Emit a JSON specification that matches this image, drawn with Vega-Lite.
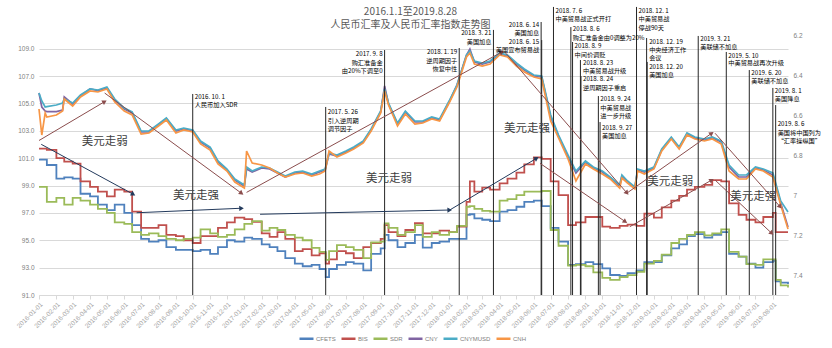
{
"$schema": "https://vega.github.io/schema/vega-lite/v6.json",
"width": 749, "height": 260,
"autosize": {"type": "none"},
"padding": {"left": 39, "top": 35, "right": 44, "bottom": 53},
"background": "white",
"config": {"view": {"stroke": null}, "font": "Liberation Sans"},
"title": {"text": ["2016.1.1至2019.8.28", "人民币汇率及人民币汇率指数走势图"], "fontSize": 10, "font": "Noto Sans CJK SC", "fontWeight": "normal", "color": "#595959", "lineHeight": 13, "offset": -24, "dx": -3, "anchor": "middle"},
"datasets": {
"idx": [
{"date":"2016-01-01","CFETS":100.9,"BIS":101.7,"SDR":98.9},
{"date":"2016-01-15","CFETS":100.5,"BIS":101.6,"SDR":97.8},
{"date":"2016-02-01","CFETS":99.5,"BIS":101.0,"SDR":98.1},
{"date":"2016-02-15","CFETS":99.6,"BIS":100.75,"SDR":97.6},
{"date":"2016-03-01","CFETS":99.5,"BIS":100.6,"SDR":98.1},
{"date":"2016-03-15","CFETS":98.4,"BIS":99.3,"SDR":97.9},
{"date":"2016-04-01","CFETS":98.2,"BIS":98.9,"SDR":97.6},
{"date":"2016-04-15","CFETS":97.6,"BIS":98.55,"SDR":97.3},
{"date":"2016-05-01","CFETS":97.2,"BIS":98.2,"SDR":97.0},
{"date":"2016-05-15","CFETS":97.6,"BIS":98.7,"SDR":96.3},
{"date":"2016-06-01","CFETS":97.0,"BIS":98.55,"SDR":96.2},
{"date":"2016-06-15","CFETS":96.1,"BIS":97.1,"SDR":95.6},
{"date":"2016-07-01","CFETS":95.1,"BIS":95.9,"SDR":95.4},
{"date":"2016-07-15","CFETS":94.9,"BIS":95.9,"SDR":95.5},
{"date":"2016-08-01","CFETS":95.0,"BIS":96.1,"SDR":95.3},
{"date":"2016-08-15","CFETS":94.5,"BIS":95.4,"SDR":95.1},
{"date":"2016-09-01","CFETS":94.3,"BIS":95.3,"SDR":95.0},
{"date":"2016-09-15","CFETS":94.3,"BIS":95.0,"SDR":95.1},
{"date":"2016-10-01","CFETS":94.2,"BIS":94.8,"SDR":95.2},
{"date":"2016-10-15","CFETS":94.3,"BIS":95.3,"SDR":95.8},
{"date":"2016-11-01","CFETS":94.0,"BIS":95.3,"SDR":95.5},
{"date":"2016-11-15","CFETS":94.5,"BIS":95.9,"SDR":95.25},
{"date":"2016-12-01","CFETS":95.0,"BIS":96.3,"SDR":95.4},
{"date":"2016-12-15","CFETS":94.9,"BIS":96.65,"SDR":95.8},
{"date":"2017-01-01","CFETS":95.2,"BIS":96.55,"SDR":96.2},
{"date":"2017-01-15","CFETS":95.1,"BIS":96.35,"SDR":96.4},
{"date":"2017-02-01","CFETS":94.7,"BIS":95.5,"SDR":95.7},
{"date":"2017-02-15","CFETS":94.5,"BIS":95.25,"SDR":95.9},
{"date":"2017-03-01","CFETS":94.2,"BIS":95.6,"SDR":95.75},
{"date":"2017-03-15","CFETS":93.7,"BIS":95.1,"SDR":95.4},
{"date":"2017-04-01","CFETS":93.3,"BIS":94.2,"SDR":95.2},
{"date":"2017-04-15","CFETS":93.1,"BIS":94.35,"SDR":95.0},
{"date":"2017-05-01","CFETS":93.2,"BIS":93.9,"SDR":94.45},
{"date":"2017-05-15","CFETS":92.9,"BIS":94.05,"SDR":94.15},
{"date":"2017-05-26","CFETS":92.3,"BIS":93.3,"SDR":93.56},
{"date":"2017-06-01","CFETS":92.9,"BIS":93.6,"SDR":94.2},
{"date":"2017-06-15","CFETS":93.2,"BIS":94.2,"SDR":94.65},
{"date":"2017-07-01","CFETS":93.4,"BIS":94.05,"SDR":94.5},
{"date":"2017-07-15","CFETS":93.3,"BIS":93.7,"SDR":94.3},
{"date":"2017-08-01","CFETS":92.8,"BIS":94.5,"SDR":93.7},
{"date":"2017-08-15","CFETS":94.0,"BIS":94.8,"SDR":94.85},
{"date":"2017-09-01","CFETS":94.4,"BIS":95.1,"SDR":94.9},
{"date":"2017-09-08","CFETS":95.4,"BIS":96.1,"SDR":96.24},
{"date":"2017-09-15","CFETS":95.0,"BIS":95.6,"SDR":95.9},
{"date":"2017-10-01","CFETS":94.5,"BIS":95.3,"SDR":95.4},
{"date":"2017-10-15","CFETS":94.8,"BIS":95.75,"SDR":95.6},
{"date":"2017-11-01","CFETS":95.4,"BIS":96.25,"SDR":96.1},
{"date":"2017-11-15","CFETS":94.46,"BIS":95.5,"SDR":95.25},
{"date":"2017-12-01","CFETS":94.8,"BIS":95.5,"SDR":95.6},
{"date":"2017-12-15","CFETS":94.9,"BIS":95.7,"SDR":95.4},
{"date":"2018-01-01","CFETS":95.1,"BIS":95.6,"SDR":95.6},
{"date":"2018-01-15","CFETS":95.1,"BIS":96.0,"SDR":96.05},
{"date":"2018-02-01","CFETS":96.85,"BIS":97.8,"SDR":97.45},
{"date":"2018-02-07","CFETS":96.9,"BIS":99.3,"SDR":97.5},
{"date":"2018-02-15","CFETS":96.6,"BIS":98.55,"SDR":97.3},
{"date":"2018-03-01","CFETS":96.5,"BIS":98.85,"SDR":97.15},
{"date":"2018-03-15","CFETS":96.4,"BIS":98.7,"SDR":97.1},
{"date":"2018-04-01","CFETS":97.1,"BIS":99.15,"SDR":97.9},
{"date":"2018-04-15","CFETS":97.2,"BIS":99.5,"SDR":98.0},
{"date":"2018-05-01","CFETS":97.45,"BIS":99.95,"SDR":98.3},
{"date":"2018-05-15","CFETS":97.8,"BIS":100.55,"SDR":98.55},
{"date":"2018-06-01","CFETS":97.9,"BIS":101.05,"SDR":98.55},
{"date":"2018-06-15","CFETS":97.5,"BIS":100.95,"SDR":98.6},
{"date":"2018-07-01","CFETS":95.9,"BIS":99.3,"SDR":95.75},
{"date":"2018-07-15","CFETS":94.9,"BIS":98.3,"SDR":94.6},
{"date":"2018-08-01","CFETS":93.2,"BIS":96.1,"SDR":93.15},
{"date":"2018-08-15","CFETS":93.25,"BIS":96.3,"SDR":93.2},
{"date":"2018-09-01","CFETS":93.4,"BIS":96.7,"SDR":93.1},
{"date":"2018-09-15","CFETS":93.25,"BIS":96.7,"SDR":92.65},
{"date":"2018-10-01","CFETS":92.95,"BIS":96.0,"SDR":92.25},
{"date":"2018-10-15","CFETS":92.46,"BIS":95.9,"SDR":92.1},
{"date":"2018-11-01","CFETS":92.4,"BIS":96.05,"SDR":92.3},
{"date":"2018-11-15","CFETS":92.6,"BIS":96.15,"SDR":92.45},
{"date":"2018-12-01","CFETS":92.8,"BIS":96.05,"SDR":92.7},
{"date":"2018-12-15","CFETS":93.4,"BIS":96.95,"SDR":93.3},
{"date":"2019-01-01","CFETS":93.4,"BIS":96.65,"SDR":93.5},
{"date":"2019-01-15","CFETS":93.9,"BIS":97.4,"SDR":93.95},
{"date":"2019-02-01","CFETS":94.4,"BIS":97.9,"SDR":94.8},
{"date":"2019-02-15","CFETS":94.7,"BIS":98.25,"SDR":95.1},
{"date":"2019-03-01","CFETS":95.3,"BIS":98.7,"SDR":95.4},
{"date":"2019-03-15","CFETS":95.45,"BIS":98.9,"SDR":95.6},
{"date":"2019-04-01","CFETS":95.2,"BIS":99.05,"SDR":95.35},
{"date":"2019-04-15","CFETS":95.4,"BIS":99.4,"SDR":95.5},
{"date":"2019-05-01","CFETS":95.6,"BIS":99.3,"SDR":95.8},
{"date":"2019-05-15","CFETS":94.0,"BIS":97.7,"SDR":94.15},
{"date":"2019-06-01","CFETS":93.8,"BIS":96.85,"SDR":93.8},
{"date":"2019-06-15","CFETS":93.3,"BIS":96.5,"SDR":93.25},
{"date":"2019-07-01","CFETS":93.0,"BIS":96.3,"SDR":93.2},
{"date":"2019-07-15","CFETS":93.4,"BIS":96.7,"SDR":93.6},
{"date":"2019-08-01","CFETS":93.5,"BIS":97.0,"SDR":93.6},
{"date":"2019-08-06","CFETS":92.0,"BIS":95.6,"SDR":92.1},
{"date":"2019-08-15","CFETS":91.9,"BIS":95.6,"SDR":91.7},
{"date":"2019-08-28","CFETS":91.8,"BIS":95.6,"SDR":91.55}
],
"fx": [
{"date":"2016-01-01","CNY":6.49,"CNYMUSD":6.49,"CNH":6.57},
{"date":"2016-01-06","CNY":6.56,"CNYMUSD":6.53,"CNH":6.70},
{"date":"2016-01-12","CNY":6.58,"CNYMUSD":6.56,"CNH":6.59},
{"date":"2016-01-15","CNY":6.583,"CNYMUSD":6.558,"CNH":6.61},
{"date":"2016-02-01","CNY":6.583,"CNYMUSD":6.55,"CNH":6.60},
{"date":"2016-02-12","CNY":6.575,"CNYMUSD":6.54,"CNH":6.58},
{"date":"2016-02-15","CNY":6.51,"CNYMUSD":6.52,"CNH":6.52},
{"date":"2016-03-01","CNY":6.545,"CNYMUSD":6.54,"CNH":6.555},
{"date":"2016-03-15","CNY":6.505,"CNYMUSD":6.50,"CNH":6.51},
{"date":"2016-04-01","CNY":6.47,"CNYMUSD":6.47,"CNH":6.48},
{"date":"2016-04-15","CNY":6.478,"CNYMUSD":6.475,"CNH":6.485},
{"date":"2016-05-01","CNY":6.465,"CNYMUSD":6.46,"CNH":6.47},
{"date":"2016-05-15","CNY":6.525,"CNYMUSD":6.52,"CNH":6.535},
{"date":"2016-06-01","CNY":6.57,"CNYMUSD":6.565,"CNH":6.58},
{"date":"2016-06-15","CNY":6.59,"CNYMUSD":6.585,"CNH":6.60},
{"date":"2016-07-01","CNY":6.685,"CNYMUSD":6.68,"CNH":6.695},
{"date":"2016-07-15","CNY":6.685,"CNYMUSD":6.68,"CNH":6.69},
{"date":"2016-08-01","CNY":6.648,"CNYMUSD":6.645,"CNH":6.655},
{"date":"2016-08-15","CNY":6.62,"CNYMUSD":6.615,"CNH":6.625},
{"date":"2016-09-01","CNY":6.68,"CNYMUSD":6.675,"CNH":6.69},
{"date":"2016-09-15","CNY":6.67,"CNYMUSD":6.665,"CNH":6.675},
{"date":"2016-10-01","CNY":6.678,"CNYMUSD":6.675,"CNH":6.685},
{"date":"2016-10-15","CNY":6.735,"CNYMUSD":6.73,"CNH":6.745},
{"date":"2016-11-01","CNY":6.765,"CNYMUSD":6.76,"CNH":6.775},
{"date":"2016-11-15","CNY":6.835,"CNYMUSD":6.83,"CNH":6.845},
{"date":"2016-12-01","CNY":6.875,"CNYMUSD":6.87,"CNH":6.88},
{"date":"2016-12-15","CNY":6.925,"CNYMUSD":6.92,"CNH":6.935},
{"date":"2017-01-01","CNY":6.955,"CNYMUSD":6.95,"CNH":6.965},
{"date":"2017-01-05","CNY":6.87,"CNYMUSD":6.86,"CNH":6.78},
{"date":"2017-01-15","CNY":6.885,"CNYMUSD":6.88,"CNH":6.84},
{"date":"2017-02-01","CNY":6.865,"CNYMUSD":6.86,"CNH":6.85},
{"date":"2017-02-15","CNY":6.87,"CNYMUSD":6.865,"CNH":6.865},
{"date":"2017-03-01","CNY":6.89,"CNYMUSD":6.885,"CNH":6.89},
{"date":"2017-03-15","CNY":6.91,"CNYMUSD":6.905,"CNH":6.91},
{"date":"2017-04-01","CNY":6.89,"CNYMUSD":6.885,"CNH":6.895},
{"date":"2017-04-15","CNY":6.885,"CNYMUSD":6.88,"CNH":6.89},
{"date":"2017-05-01","CNY":6.90,"CNYMUSD":6.895,"CNH":6.905},
{"date":"2017-05-15","CNY":6.885,"CNYMUSD":6.88,"CNH":6.895},
{"date":"2017-05-25","CNY":6.875,"CNYMUSD":6.87,"CNH":6.88},
{"date":"2017-06-01","CNY":6.795,"CNYMUSD":6.79,"CNH":6.78},
{"date":"2017-06-15","CNY":6.805,"CNYMUSD":6.80,"CNH":6.81},
{"date":"2017-07-01","CNY":6.785,"CNYMUSD":6.78,"CNH":6.79},
{"date":"2017-07-15","CNY":6.765,"CNYMUSD":6.76,"CNH":6.77},
{"date":"2017-08-01","CNY":6.735,"CNYMUSD":6.73,"CNH":6.74},
{"date":"2017-08-15","CNY":6.675,"CNYMUSD":6.67,"CNH":6.68},
{"date":"2017-09-01","CNY":6.585,"CNYMUSD":6.58,"CNH":6.59},
{"date":"2017-09-08","CNY":6.455,"CNYMUSD":6.47,"CNH":6.48},
{"date":"2017-09-15","CNY":6.545,"CNYMUSD":6.54,"CNH":6.55},
{"date":"2017-10-01","CNY":6.645,"CNYMUSD":6.64,"CNH":6.655},
{"date":"2017-10-15","CNY":6.585,"CNYMUSD":6.58,"CNH":6.595},
{"date":"2017-11-01","CNY":6.635,"CNYMUSD":6.63,"CNH":6.645},
{"date":"2017-11-15","CNY":6.635,"CNYMUSD":6.63,"CNH":6.64},
{"date":"2017-12-01","CNY":6.615,"CNYMUSD":6.61,"CNH":6.62},
{"date":"2017-12-15","CNY":6.625,"CNYMUSD":6.62,"CNH":6.63},
{"date":"2018-01-01","CNY":6.535,"CNYMUSD":6.53,"CNH":6.54},
{"date":"2018-01-15","CNY":6.45,"CNYMUSD":6.45,"CNH":6.46},
{"date":"2018-02-01","CNY":6.30,"CNYMUSD":6.30,"CNH":6.31},
{"date":"2018-02-07","CNY":6.27,"CNYMUSD":6.28,"CNH":6.29},
{"date":"2018-02-15","CNY":6.335,"CNYMUSD":6.33,"CNH":6.345},
{"date":"2018-03-01","CNY":6.345,"CNYMUSD":6.34,"CNH":6.355},
{"date":"2018-03-15","CNY":6.335,"CNYMUSD":6.33,"CNH":6.345},
{"date":"2018-04-01","CNY":6.295,"CNYMUSD":6.29,"CNH":6.30},
{"date":"2018-04-15","CNY":6.305,"CNYMUSD":6.30,"CNH":6.31},
{"date":"2018-05-01","CNY":6.345,"CNYMUSD":6.34,"CNH":6.355},
{"date":"2018-05-15","CNY":6.375,"CNYMUSD":6.37,"CNH":6.385},
{"date":"2018-06-01","CNY":6.405,"CNYMUSD":6.40,"CNH":6.41},
{"date":"2018-06-15","CNY":6.41,"CNYMUSD":6.405,"CNH":6.42},
{"date":"2018-07-01","CNY":6.61,"CNYMUSD":6.60,"CNH":6.63},
{"date":"2018-07-15","CNY":6.705,"CNYMUSD":6.70,"CNH":6.715},
{"date":"2018-08-01","CNY":6.81,"CNYMUSD":6.80,"CNH":6.82},
{"date":"2018-08-15","CNY":6.89,"CNYMUSD":6.88,"CNH":6.93},
{"date":"2018-09-01","CNY":6.835,"CNYMUSD":6.83,"CNH":6.845},
{"date":"2018-09-15","CNY":6.865,"CNYMUSD":6.86,"CNH":6.87},
{"date":"2018-10-01","CNY":6.885,"CNYMUSD":6.88,"CNH":6.895},
{"date":"2018-10-15","CNY":6.915,"CNYMUSD":6.91,"CNH":6.92},
{"date":"2018-11-01","CNY":6.955,"CNYMUSD":6.95,"CNH":6.965},
{"date":"2018-11-05","CNY":6.905,"CNYMUSD":6.90,"CNH":6.915},
{"date":"2018-11-15","CNY":6.935,"CNYMUSD":6.93,"CNH":6.94},
{"date":"2018-11-28","CNY":6.965,"CNYMUSD":6.96,"CNH":6.97},
{"date":"2018-12-03","CNY":6.875,"CNYMUSD":6.87,"CNH":6.88},
{"date":"2018-12-15","CNY":6.885,"CNYMUSD":6.88,"CNH":6.895},
{"date":"2019-01-01","CNY":6.865,"CNYMUSD":6.86,"CNH":6.87},
{"date":"2019-01-15","CNY":6.775,"CNYMUSD":6.77,"CNH":6.78},
{"date":"2019-02-01","CNY":6.715,"CNYMUSD":6.71,"CNH":6.72},
{"date":"2019-02-15","CNY":6.765,"CNYMUSD":6.76,"CNH":6.77},
{"date":"2019-03-01","CNY":6.695,"CNYMUSD":6.69,"CNH":6.70},
{"date":"2019-03-15","CNY":6.715,"CNYMUSD":6.71,"CNH":6.72},
{"date":"2019-04-01","CNY":6.725,"CNYMUSD":6.72,"CNH":6.73},
{"date":"2019-04-15","CNY":6.715,"CNYMUSD":6.71,"CNH":6.72},
{"date":"2019-05-01","CNY":6.735,"CNYMUSD":6.73,"CNH":6.745},
{"date":"2019-05-15","CNY":6.86,"CNYMUSD":6.85,"CNH":6.88},
{"date":"2019-06-01","CNY":6.91,"CNYMUSD":6.90,"CNH":6.92},
{"date":"2019-06-15","CNY":6.91,"CNYMUSD":6.90,"CNH":6.92},
{"date":"2019-07-01","CNY":6.865,"CNYMUSD":6.86,"CNH":6.87},
{"date":"2019-07-15","CNY":6.875,"CNYMUSD":6.87,"CNH":6.88},
{"date":"2019-08-01","CNY":6.90,"CNYMUSD":6.89,"CNH":6.91},
{"date":"2019-08-15","CNY":7.04,"CNYMUSD":7.03,"CNH":7.05},
{"date":"2019-08-28","CNY":7.16,"CNYMUSD":7.085,"CNH":7.17}
],
"events": [
{"date":"2016-10-01","top":105.69},{"date":"2017-05-26","top":104.74},{"date":"2017-09-08","top":108.9},
{"date":"2018-01-19","top":109.05},{"date":"2018-03-21","top":110.37},{"date":"2018-06-14","top":110.95},
{"date":"2018-06-15","top":109.63},{"date":"2018-07-06","top":112.05},{"date":"2018-08-06","top":110.58},
{"date":"2018-08-09","top":109.49},{"date":"2018-08-23","top":108.17},{"date":"2018-08-24","top":107.0},
{"date":"2018-09-24","top":105.54},{"date":"2018-09-27","top":103.64},{"date":"2018-12-01","top":112.05},
{"date":"2018-12-19","top":109.78},{"date":"2018-12-20","top":108.03},{"date":"2019-03-21","top":109.93},
{"date":"2019-05-10","top":108.76},{"date":"2019-06-20","top":107.44},{"date":"2019-08-01","top":106.13},
{"date":"2019-08-06","top":104.88}
],
"notesR": [
{"date":"2016-10-01","v":105.47,"t":"2016. 10. 1"},{"date":"2016-10-01","v":104.88,"t":"人民币加入SDR"},
{"date":"2017-05-26","v":104.37,"t":"2017. 5. 26"},{"date":"2017-05-26","v":103.72,"t":"引入逆周期"},{"date":"2017-05-26","v":103.13,"t":"调节因子"},
{"date":"2018-07-06","v":111.75,"t":"2018. 7. 6"},{"date":"2018-07-06","v":111.17,"t":"中美贸易战正式开打"},
{"date":"2018-08-06","v":110.44,"t":"2018. 8. 6"},{"date":"2018-08-06","v":109.78,"t":"购汇准备金由0调整为20%"},
{"date":"2018-08-09","v":109.2,"t":"2018. 8. 9"},{"date":"2018-08-09","v":108.54,"t":"中间价调贬"},
{"date":"2018-08-24","v":107.95,"t":"2018. 8. 23"},{"date":"2018-08-24","v":107.37,"t":"中美贸易战升级"},
{"date":"2018-08-24","v":106.78,"t":"2018. 8. 24"},{"date":"2018-08-24","v":106.13,"t":"逆周期因子重启"},
{"date":"2018-09-24","v":105.32,"t":"2018. 9. 24"},{"date":"2018-09-24","v":104.67,"t":"中美贸易战"},{"date":"2018-09-24","v":104.08,"t":"进一步升级"},
{"date":"2018-09-27","v":103.2,"t":"2018. 9. 27"},{"date":"2018-09-27","v":102.62,"t":"美国加息"},
{"date":"2018-12-01","v":111.75,"t":"2018. 12. 1"},{"date":"2018-12-01","v":111.17,"t":"中美贸易战"},{"date":"2018-12-01","v":110.51,"t":"停战90天"},
{"date":"2018-12-20","v":109.49,"t":"2018. 12. 19"},{"date":"2018-12-20","v":108.9,"t":"中央经济工作"},{"date":"2018-12-20","v":108.32,"t":"会议"},
{"date":"2018-12-20","v":107.66,"t":"2018. 12. 20"},{"date":"2018-12-20","v":107.08,"t":"美国加息"},
{"date":"2019-03-21","v":109.71,"t":"2019. 3. 21"},{"date":"2019-03-21","v":109.12,"t":"美联储不加息"},
{"date":"2019-05-10","v":108.47,"t":"2019. 5. 10"},{"date":"2019-05-10","v":107.95,"t":"中美贸易战再次升级"},
{"date":"2019-06-20","v":107.22,"t":"2019. 6. 20"},{"date":"2019-06-20","v":106.64,"t":"美联储不加息"},
{"date":"2019-08-01","v":105.91,"t":"2019. 8. 1"},{"date":"2019-08-01","v":105.32,"t":"美国降息"},
{"date":"2019-08-06","v":103.5,"t":"2019. 8. 6"},{"date":"2019-08-06","v":102.84,"t":"美国将中国列为"},{"date":"2019-08-06","v":102.25,"t":"“汇率操纵国”"}
],
"notesL": [
{"date":"2017-09-08","v":108.61,"t":"2017. 9. 8"},{"date":"2017-09-08","v":107.95,"t":"购汇准备金"},{"date":"2017-09-08","v":107.37,"t":"由20%下调至0"},
{"date":"2018-01-19","v":108.76,"t":"2018. 1. 19"},{"date":"2018-01-19","v":108.1,"t":"逆周期因子"},{"date":"2018-01-19","v":107.52,"t":"恢复中性"},
{"date":"2018-03-21","v":110.15,"t":"2018. 3. 21"},{"date":"2018-03-21","v":109.49,"t":"美国加息"},
{"date":"2018-06-14","v":110.73,"t":"2018. 6. 14"},{"date":"2018-06-14","v":110.15,"t":"美国加息"},
{"date":"2018-06-14","v":109.49,"t":"2018. 6. 15"},{"date":"2018-06-14","v":108.9,"t":"美国宣布贸易战"}
],
"arrows": [
{"date":"2016-01-01","v":102.29,"date2":"2016-04-27","v2":105.13,"kind":"brown"},
{"date":"2016-04-27","v":105.76,"date2":"2016-12-27","v2":98.43,"kind":"brown"},
{"date":"2017-01-05","v":98.5,"date2":"2018-04-05","v2":108.76,"kind":"brown"},
{"date":"2018-04-10","v":108.76,"date2":"2018-11-14","v2":98.45,"kind":"brown"},
{"date":"2018-11-14","v":98.45,"date2":"2019-04-14","v2":102.82,"kind":"brown"},
{"date":"2019-04-20","v":102.82,"date2":"2019-08-14","v2":97.45,"kind":"brown"},
{"date":"2018-06-12","v":100.62,"date2":"2018-11-11","v2":96.36,"kind":"brown"},
{"date":"2018-11-19","v":95.99,"date2":"2019-04-14","v2":99.4,"kind":"brown"},
{"date":"2019-04-20","v":99.4,"date2":"2019-07-30","v2":95.51,"kind":"brown"},
{"date":"2016-01-05","v":102.01,"date2":"2016-06-17","v2":98.36,"kind":"navy"},
{"date":"2016-06-23","v":97.01,"date2":"2016-12-27","v2":97.34,"kind":"navy"},
{"date":"2017-01-29","v":96.9,"date2":"2018-01-02","v2":97.21,"kind":"navy"},
{"date":"2018-01-02","v":97.21,"date2":"2018-06-06","v2":100.99,"kind":"navy"}
],
"heads": [
{"date":"2016-04-27","v":105.13,"deg":-30.4,"kind":"brown"},
{"date":"2016-12-27","v":98.43,"deg":36.3,"kind":"brown"},
{"date":"2018-04-05","v":108.76,"deg":-28.8,"kind":"brown"},
{"date":"2018-11-14","v":98.45,"deg":49.1,"kind":"brown"},
{"date":"2019-04-14","v":102.82,"deg":-35.2,"kind":"brown"},
{"date":"2019-08-14","v":97.45,"deg":48.5,"kind":"brown"},
{"date":"2018-11-11","v":96.36,"deg":34.5,"kind":"brown"},
{"date":"2019-04-14","v":99.4,"deg":-29.7,"kind":"brown"},
{"date":"2019-07-30","v":95.51,"deg":43.2,"kind":"brown"},
{"date":"2016-06-17","v":98.36,"deg":28.6,"kind":"navy"},
{"date":"2016-12-27","v":97.34,"deg":-2.4,"kind":"navy"},
{"date":"2018-01-02","v":97.21,"deg":-1.3,"kind":"navy"},
{"date":"2018-06-06","v":100.99,"deg":-30.8,"kind":"navy"}
],
"trend": [
{"date":"2016-04-27","v":102.18,"t":"美元走弱"},
{"date":"2016-10-07","v":98.2,"t":"美元走强"},
{"date":"2017-09-16","v":99.48,"t":"美元走弱"},
{"date":"2018-05-20","v":103.13,"t":"美元走强"},
{"date":"2019-01-30","v":99.26,"t":"美元走弱"},
{"date":"2019-06-27","v":98.16,"t":"美元走强"}
]
},
"encoding": {
"x": {"field": "date", "type": "temporal", "title": null,
 "scale": {"type": "utc", "domain": [{"year": 2016, "month": 1, "date": 1, "utc": true}, {"year": 2019, "month": 8, "date": 28, "utc": true}], "nice": false},
 "axis": {"format": "%Y-%m-%d", "labelAngle": -45, "labelFontSize": 6.5, "labelColor": "#a6a6a6", "domainColor": "#d9d9d9", "tickColor": "#d9d9d9", "tickSize": 4, "grid": false, "tickCount": {"interval": "month", "step": 1}, "labelOverlap": false, "labelPadding": 2, "labelBound": false, "labelFlush": false}}
},
"layer": [
{
"data": {"name": "idx"},
"transform": [{"fold": ["CFETS", "BIS", "SDR"], "as": ["series", "val"]}],
"mark": {"type": "line", "interpolate": "step-after", "strokeWidth": 1.8},
"encoding": {
 "y": {"field": "val", "type": "quantitative", "title": null, "scale": {"domain": [91, 110], "nice": false, "zero": false},
  "axis": {"values": [91, 93, 95, 97, 99, 101, 103, 105, 107, 109], "format": ".1f", "labelFontSize": 6.5, "labelColor": "#808080", "grid": true, "gridColor": "#d9d9d9", "domain": false, "ticks": false, "labelPadding": 5}},
 "color": {"field": "series", "type": "nominal",
  "scale": {"domain": ["CFETS", "BIS", "SDR", "CNY", "CNYMUSD", "CNH"], "range": ["#4F81BD", "#C0504D", "#9BBB59", "#8064A2", "#4BACC6", "#F79646"]},
  "legend": {"orient": "none", "legendX": 259, "legendY": 295, "direction": "horizontal", "title": null, "symbolType": "stroke", "symbolSize": 196, "symbolStrokeWidth": 2.5, "labelFontSize": 6, "labelColor": "#808080", "columnPadding": 0, "labelOffset": 1, "padding": 0}}
}
},
{
"data": {"name": "fx"},
"transform": [{"fold": ["CNY", "CNYMUSD", "CNH"], "as": ["series", "val"]}],
"mark": {"type": "line", "strokeWidth": 1.7},
"encoding": {
 "y": {"field": "val", "type": "quantitative", "title": null, "scale": {"domain": [6.2, 7.5], "reverse": true, "nice": false, "zero": false},
  "axis": {"orient": "right", "values": [6.2, 6.4, 6.6, 6.8, 7, 7.2, 7.4], "format": "~g", "labelFontSize": 6.5, "labelColor": "#808080", "grid": false, "domain": false, "ticks": false, "labelPadding": 5}},
 "color": {"field": "series", "type": "nominal"}
}
},
{
"layer": [
 {"data": {"name": "events"}, "mark": {"type": "rule", "color": "#262626", "strokeWidth": 1},
  "encoding": {"y": {"field": "top", "type": "quantitative", "scale": {"domain": [91, 110], "nice": false, "zero": false}, "axis": null}, "y2": {"datum": 91}}},
 {"data": {"name": "arrows"}, "transform": [{"filter": "datum.kind === 'brown'"}], "mark": {"type": "rule", "color": "#8B4D4D", "strokeWidth": 1},
  "encoding": {"x2": {"field": "date2"}, "y": {"field": "v", "type": "quantitative", "scale": {"domain": [91, 110], "nice": false, "zero": false}, "axis": null}, "y2": {"field": "v2"}}},
 {"data": {"name": "arrows"}, "transform": [{"filter": "datum.kind === 'navy'"}], "mark": {"type": "rule", "color": "#233A5C", "strokeWidth": 1},
  "encoding": {"x2": {"field": "date2"}, "y": {"field": "v", "type": "quantitative", "scale": {"domain": [91, 110], "nice": false, "zero": false}, "axis": null}, "y2": {"field": "v2"}}},
 {"data": {"name": "heads"}, "transform": [{"filter": "datum.kind === 'brown'"}], "mark": {"type": "point", "shape": "triangle-right", "filled": true, "size": 28, "color": "#8B4D4D", "opacity": 1},
  "encoding": {"y": {"field": "v", "type": "quantitative", "scale": {"domain": [91, 110], "nice": false, "zero": false}, "axis": null}, "angle": {"field": "deg", "type": "quantitative", "scale": null}}},
 {"data": {"name": "heads"}, "transform": [{"filter": "datum.kind === 'navy'"}], "mark": {"type": "point", "shape": "triangle-right", "filled": true, "size": 28, "color": "#233A5C", "opacity": 1},
  "encoding": {"y": {"field": "v", "type": "quantitative", "scale": {"domain": [91, 110], "nice": false, "zero": false}, "axis": null}, "angle": {"field": "deg", "type": "quantitative", "scale": null}}},
 {"data": {"name": "trend"}, "mark": {"type": "text", "font": "Noto Sans CJK SC", "fontSize": 11.5, "color": "#404040", "align": "center", "baseline": "middle"},
  "encoding": {"y": {"field": "v", "type": "quantitative", "scale": {"domain": [91, 110], "nice": false, "zero": false}, "axis": null}, "text": {"field": "t"}}},
 {"data": {"name": "notesR"}, "mark": {"type": "text", "font": "Noto Sans CJK SC", "fontSize": 6.2, "color": "#000000", "align": "left", "baseline": "middle", "dx": 2},
  "encoding": {"y": {"field": "v", "type": "quantitative", "scale": {"domain": [91, 110], "nice": false, "zero": false}, "axis": null}, "text": {"field": "t"}}},
 {"data": {"name": "notesL"}, "mark": {"type": "text", "font": "Noto Sans CJK SC", "fontSize": 6.2, "color": "#000000", "align": "right", "baseline": "middle", "dx": -2},
  "encoding": {"y": {"field": "v", "type": "quantitative", "scale": {"domain": [91, 110], "nice": false, "zero": false}, "axis": null}, "text": {"field": "t"}}}
]
}
],
"resolve": {"scale": {"y": "independent"}}
}
